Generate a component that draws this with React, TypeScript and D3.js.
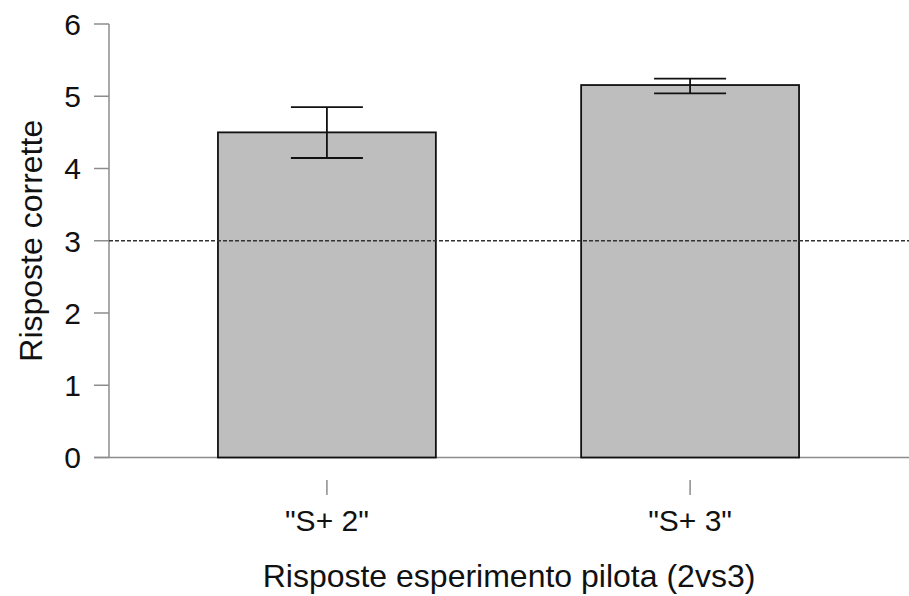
import React from "react";
import * as d3 from "d3";

const categories = ['"S+ 2"', '"S+ 3"'];
const means = [4.5, 5.155];
const errLow = [4.145, 5.04];
const errHigh = [4.85, 5.245];
const yTicks = [0, 1, 2, 3, 4, 5, 6];
const chanceLevel = 3;

const W = 909;
const H = 596;
const FONT = "'Liberation Sans', Arial, Helvetica, sans-serif";

export default function App() {
  const x = d3
    .scaleBand<string>()
    .domain(categories)
    .range([109, 908])
    .paddingInner(0.4)
    .paddingOuter(0.3);
  const y = d3.scaleLinear().domain([0, 6]).range([457.5, 24]);
  const bw = x.bandwidth();
  const capHalf = 36;
  const axisColor = "#8c8c8c";

  return (
    <svg
      width={W}
      height={H}
      style={{ position: "absolute", left: 0, top: 0, background: "#fff" }}
      fontFamily={FONT}
    >
      {/* baseline */}
      <line x1={94} x2={W} y1={y(0)} y2={y(0)} stroke={axisColor} strokeWidth={1.5} />
      {/* y axis */}
      <line x1={109} x2={109} y1={y(6)} y2={y(0)} stroke={axisColor} strokeWidth={1.5} />
      {yTicks.map((t) => (
        <g key={t}>
          <line x1={94} x2={109} y1={y(t)} y2={y(t)} stroke={axisColor} strokeWidth={1.5} />
          <text
            x={81}
            y={y(t)}
            dy="0.36em"
            textAnchor="end"
            fontSize={30}
            fill="#111"
          >
            {t}
          </text>
        </g>
      ))}
      {/* bars */}
      {categories.map((c, i) => (
        <rect
          key={c}
          x={x(c)}
          y={y(means[i])}
          width={bw}
          height={y(0) - y(means[i])}
          fill="#bebebe"
          stroke="#111"
          strokeWidth={1.8}
        />
      ))}
      {/* chance level */}
      <line
        x1={109}
        x2={W}
        y1={y(chanceLevel)}
        y2={y(chanceLevel)}
        stroke="#333"
        strokeWidth={1.3}
        strokeDasharray="4,2"
      />
      {/* error bars */}
      {categories.map((c, i) => {
        const cx = (x(c) as number) + bw / 2;
        return (
          <g key={c} stroke="#111" strokeWidth={1.8}>
            <line x1={cx} x2={cx} y1={y(errLow[i])} y2={y(errHigh[i])} />
            <line x1={cx - capHalf} x2={cx + capHalf} y1={y(errHigh[i])} y2={y(errHigh[i])} />
            <line x1={cx - capHalf} x2={cx + capHalf} y1={y(errLow[i])} y2={y(errLow[i])} />
          </g>
        );
      })}
      {/* x ticks and labels */}
      {categories.map((c) => {
        const cx = (x(c) as number) + bw / 2;
        return (
          <g key={c}>
            <line x1={cx} x2={cx} y1={480} y2={495} stroke={axisColor} strokeWidth={1.5} />
            <text x={cx} y={531} textAnchor="middle" fontSize={30} fill="#111">
              {c}
            </text>
          </g>
        );
      })}
      {/* axis titles */}
      <text x={509} y={587} textAnchor="middle" fontSize={32} fill="#111">
        Risposte esperimento pilota (2vs3)
      </text>
      <text
        transform={`translate(42, ${(y(0) + y(6)) / 2}) rotate(-90)`}
        textAnchor="middle"
        fontSize={32}
        fill="#111"
      >
        Risposte corrette
      </text>
    </svg>
  );
}
